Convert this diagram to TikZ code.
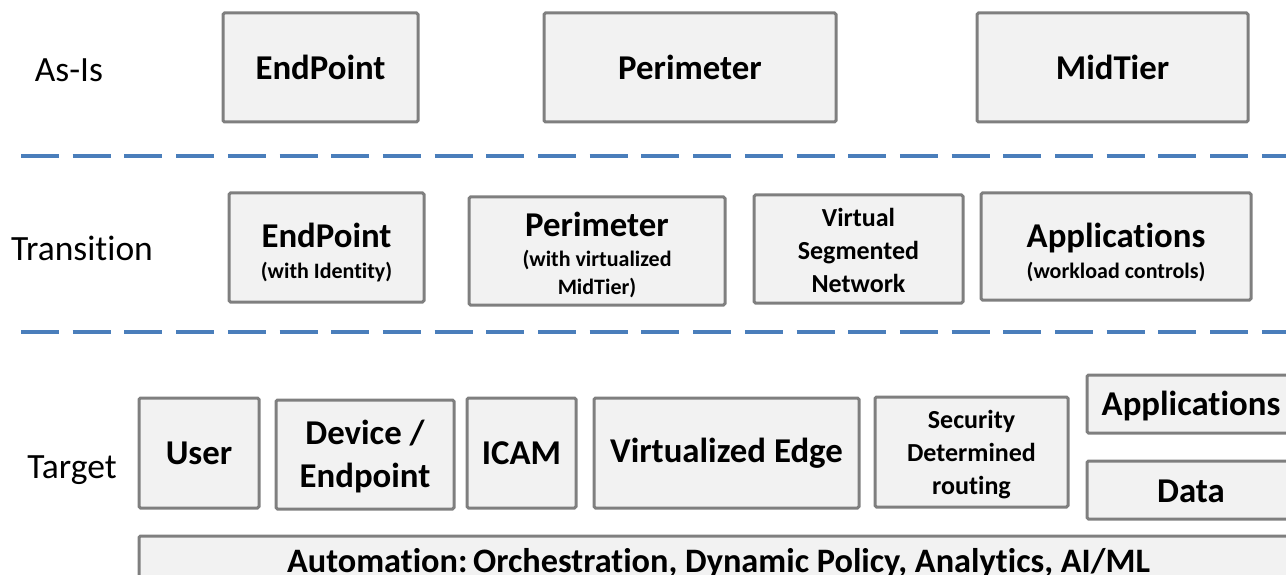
\documentclass[tikz,border=0pt]{standalone}
\usepackage{fontspec}
\setmainfont{Carlito}[Ligatures=NoCommon]
\definecolor{boxfill}{RGB}{242,242,242}
\definecolor{boxline}{RGB}{127,127,127}
\definecolor{dashblue}{RGB}{74,126,187}
\newcommand{\fbig}{\fontsize{34.8}{40}\selectfont}
\newcommand{\flab}{\fontsize{35.5}{40}\selectfont}
\begin{document}
\begin{tikzpicture}[x=1pt,y=-1pt,
  box/.style={draw=boxline,fill=boxfill,line width=3pt,rounded corners=1.5pt,
    inner sep=0pt,outer sep=0pt,align=center,font=\bfseries\fbig},
  boxtext/.style={inner sep=0pt,align=center,font=\bfseries\fbig},
  rowlabel/.style={inner sep=0pt,font=\flab},
  divider/.style={draw=dashblue,line width=4pt,dash pattern=on 38pt off 13.7pt}]
\useasboundingbox (0,0) rectangle (1286,575);
% row labels
\node[rowlabel] (lasis) at (69,70) {As-Is};
\node[rowlabel] (ltrans) at (82,248) {Transition};
\node[rowlabel] (ltarget) at (72,470) {Target};
% dividers
\coordinate (d1s) at (21,155.7);
\coordinate (d1e) at (1300,155.7);
\coordinate (d2s) at (21,331.7);
\coordinate (d2e) at (1300,331.7);
\draw[divider] (d1s) -- (d1e);
\draw[divider] (d2s) -- (d2e);
% As-Is row
\node[box,minimum width=195,minimum height=109] (a1) at (320.5,67.5) {EndPoint};
\node[box,minimum width=292,minimum height=109] (a2) at (690,67.5) {Perimeter};
\node[box,minimum width=271,minimum height=109] (a3) at (1112.5,67.5) {MidTier};
% Transition row
\node[box,minimum width=195,minimum height=109] (b1) at (326.5,247.5) {};
\node[boxtext,font=\bfseries\fontsize{22}{30}\selectfont] (b1t) at ([yshift=-5.5]b1.center) {{\fbig EndPoint}\\[1pt](with Identity)};
\node[box,minimum width=256,minimum height=108] (b2) at (597,251) {};
\node[boxtext,font=\bfseries\fontsize{22}{28}\selectfont] (b2t) at ([yshift=-4]b2.center) {{\fbig Perimeter}\\[2pt](with virtualized\\MidTier)};
\node[box,minimum width=209,minimum height=108] (b3) at (858.5,249) {};
\node[boxtext,font=\bfseries\fontsize{26}{33}\selectfont] (b3t) at ([yshift=-1.5]b3.center) {Virtual\\Segmented\\Network};
\node[box,minimum width=270,minimum height=107] (b4) at (1116,246.5) {};
\node[boxtext,font=\bfseries\fontsize{22}{30}\selectfont] (b4t) at ([yshift=-5.5]b4.center) {{\fbig Applications}\\[1pt](workload controls)};
% Target row
\node[box,minimum width=120,minimum height=110] (c1) at (199,453) {User};
\node[box,minimum width=178,minimum height=109] (c2) at (365,454.5) {};
\node[boxtext,font=\bfseries\fontsize{34.8}{43}\selectfont] (c2t) at ([yshift=-2]c2.center) {Device /\\Endpoint};
\node[box,minimum width=109,minimum height=110] (c3) at (521.5,453) {ICAM};
\node[box,minimum width=265,minimum height=110] (c4) at (726.5,453) {Virtualized Edge};
\node[box,minimum width=193,minimum height=110] (c5) at (971.5,452) {};
\node[boxtext,font=\bfseries\fontsize{26}{33}\selectfont] (c5t) at ([yshift=-3]c5.center) {Security\\Determined\\routing};
\node[box,minimum width=208,minimum height=58] (c6) at (1191,404) {};
\node[boxtext] (c6t) at ([yshift=-2]c6.center) {Applications};
\node[box,minimum width=208,minimum height=58] (c7) at (1191,490) {};
\node[boxtext] (c7t) at ([yshift=-1]c7.center) {Data};
\node[box,minimum width=1159,minimum height=54,font=\bfseries\fontsize{34.3}{40}\selectfont] (c8) at (718.5,563) {Automation:\,Orchestration, Dynamic Policy, Analytics, AI/ML};
\end{tikzpicture}
\end{document}
